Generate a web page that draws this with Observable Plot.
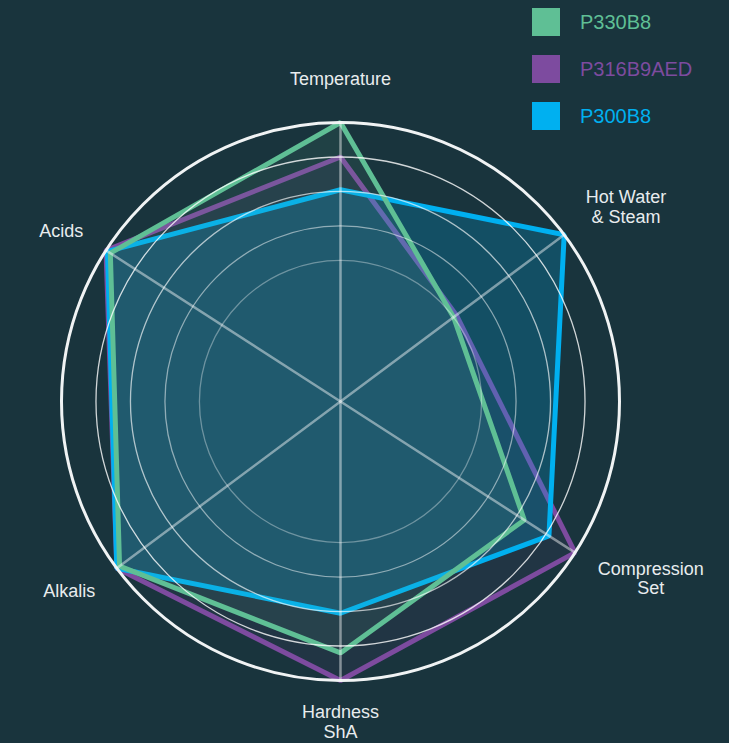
<!DOCTYPE html>
<html><head><meta charset="utf-8">
<script src="https://cdn.jsdelivr.net/npm/d3@7"></script>
<script src="https://cdn.jsdelivr.net/npm/@observablehq/plot@0.6"></script>
<style>
html,body{margin:0;padding:0;background:#19343d;}
#wrap{position:relative;width:729px;height:743px;overflow:hidden;}
#legend{position:absolute;left:532px;top:8px;font-family:"Liberation Sans",Arial,sans-serif;}
.item{display:flex;align-items:center;height:28px;margin-bottom:19px;}
.sw{width:28px;height:28px;margin-right:20px;}
.lab{font-size:20px;line-height:28px;}
</style></head><body>
<div id="wrap"><div id="chart"></div><div id="legend"></div></div>
<script>
// ---- data ----
const axes = ["Temperature", "Hot Water & Steam", "Compression Set", "Hardness ShA", "Alkalis", "Acids"];
const axisLabels = ["Temperature", "Hot Water\n& Steam", "Compression\nSet", "Hardness\nShA", "Alkalis", "Acids"];
const series = ["P330B8", "P316B9AED", "P300B8"];
const seriesColors = ["#5fbf95", "#7d4b9f", "#00b0f0"];
const p330b8 = [5, 1, 3.25, 4.2, 4.9, 4.85];
const p316b9aed = [4, 1.1, 5, 5, 5, 5];
const p300b8 = [3.05, 5, 4.1, 3.05, 5, 4.95];
const levels = [1, 2, 3, 4, 5];

// ---- layout / scales ----
const W = 729, H = 743, CX = 340, CY = 401;
const angle = d3.scaleOrdinal(axes, [0, 53.3, 122.8, 180, 233.3, 302.8]); // degrees clockwise from top
const radius = d3.scaleLinear([0, 5], [106.6, 279]);
const rad = a => a * Math.PI / 180;
const px = (ax, v) => radius(v) * Math.sin(rad(angle(ax)));
const py = (ax, v) => radius(v) * Math.cos(rad(angle(ax)));

const valuesBySeries = [p330b8, p316b9aed, p300b8];
const fillOpacities = [0.1, 0.08, 0.22];
const rows = series.flatMap((s, si) => axes.map((ax, i) => ({series: s, axis: ax, value: valuesBySeries[si][i]})));

// label placement
const FS = 18;
const FONT = FS + "px 'Liberation Sans', Arial, sans-serif";
const ctx = document.createElement("canvas").getContext("2d");
ctx.font = FONT;
const LH = 20, RL = 306;
const labelRows = axes.map((ax, i) => {
  const lines = axisLabels[i].split("\n");
  const w = d3.max(lines, l => ctx.measureText(l).width);
  const h = lines.length * LH;
  const s = Math.sin(rad(angle(ax))), c = Math.cos(rad(angle(ax)));
  let x = RL * s, y = RL * c;
  if (Math.abs(s) > 0.1) x += Math.sign(s) * w / 2;
  if (Math.abs(c) > 0.9) y = c > 0 ? RL + 17 : -(RL + 14); else y += c * h / 2;
  return {text: axisLabels[i], x, y};
});

const gridColor = "#ffffff";
const marks = [];
// polygons (purple, blue, green order)
for (const si of [1, 2, 0]) {
  marks.push(Plot.line(rows.filter(d => d.series === series[si]), {
    x: d => px(d.axis, d.value), y: d => py(d.axis, d.value),
    curve: "linear-closed", stroke: seriesColors[si], strokeWidth: 5,
    strokeLinejoin: "miter", fill: seriesColors[si], fillOpacity: fillOpacities[si]
  }));
}
// grid circles
const levelOpacity = d3.scaleLinear([1, 4], [0.35, 0.8]);
marks.push(Plot.dot(levels.slice(0, -1), {x: () => 0, y: () => 0, r: d => radius(d), fill: "none",
  stroke: gridColor, strokeWidth: 1.3, strokeOpacity: d => levelOpacity(d)}));
marks.push(Plot.dot(levels.slice(-1), {x: () => 0, y: () => 0, r: d => radius(d), fill: "none",
  stroke: "#f0f3f4", strokeWidth: 3}));
// spokes
marks.push(Plot.link(axes, {x1: () => 0, y1: () => 0, x2: ax => px(ax, 5), y2: ax => py(ax, 5),
  stroke: "#ffffff", strokeOpacity: 0.45, strokeWidth: 2.5}));
// axis labels
marks.push(Plot.text(labelRows, {x: "x", y: "y", text: "text", fill: "#e8ecee", fontSize: FS,
  lineHeight: LH / FS, textAnchor: "middle", lineAnchor: "middle"}));

const chart = Plot.plot({
  width: W, height: H, margin: 0,
  style: {background: "#19343d", fontFamily: "'Liberation Sans', Arial, sans-serif"},
  x: {domain: [-CX, W - CX], axis: null},
  y: {domain: [-(H - CY), CY], axis: null},
  r: {type: "identity"},
  strokeOpacity: {type: "identity"},
  marks
});
document.getElementById("chart").append(chart);

// legend
const lg = document.getElementById("legend");
series.forEach((s, i) => {
  const it = document.createElement("div"); it.className = "item";
  const sw = document.createElement("div"); sw.className = "sw"; sw.style.background = seriesColors[i];
  const lb = document.createElement("span"); lb.className = "lab"; lb.textContent = s; lb.style.color = seriesColors[i];
  it.append(sw, lb); lg.append(it);
});
</script>
</body></html>
